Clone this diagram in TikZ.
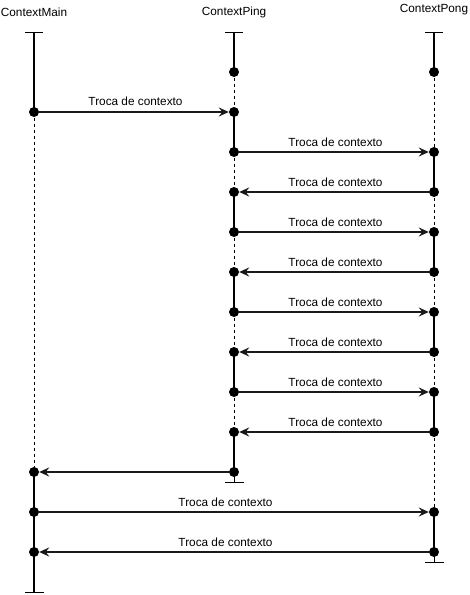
\documentclass[tikz,border=0pt]{standalone}
\usepackage{fontspec}
\setmainfont{Liberation Sans}
\usetikzlibrary{arrows.meta}
\begin{document}
\begin{tikzpicture}[x=1pt,y=-1pt,
  dot/.style={circle,fill=black,inner sep=0pt,minimum size=10pt},
  solidlife/.style={line width=2pt},
  dashlife/.style={line width=0.8pt,dash pattern=on 3pt off 3pt},
  endbar/.style={line width=1pt},
  msg/.style={line width=1.6pt,draw=black!90,-{Stealth[length=10pt,width=9pt,inset=3.5pt]}},
  lbl/.style={font=\fontsize{11.8}{13}\selectfont,inner sep=0pt},
  title/.style={font=\fontsize{11.8}{13}\selectfont,inner sep=0pt}]
\useasboundingbox (0,0) rectangle (470,595);
% titles
\node[title] (tm) at (34,12) {ContextMain};
\node[title] (tp) at (234,12) {ContextPing};
\node[title] (tq) at (434,10) {ContextPong};
% top / bottom coordinates
\coordinate (mt) at (34,32);
\coordinate (pt) at (234,32);
\coordinate (qt) at (434,32);
\coordinate (mb) at (34,592);
\coordinate (pb) at (234,482);
\coordinate (qb) at (434,562);
% bars
\draw[endbar] ([xshift=-9pt]mt) -- ([xshift=9pt]mt);
\draw[endbar] ([xshift=-9pt]pt) -- ([xshift=9pt]pt);
\draw[endbar] ([xshift=-9pt]qt) -- ([xshift=9pt]qt);
\draw[endbar] ([xshift=-9pt]mb) -- ([xshift=10pt]mb);
\draw[endbar] ([xshift=-9pt]pb) -- ([xshift=10pt]pb);
\draw[endbar] ([xshift=-9pt]qb) -- ([xshift=10pt]qb);
% main dots
\coordinate (m1) at (34,112);
\coordinate (m2) at (34,472);
\coordinate (m3) at (34,512);
\coordinate (m4) at (34,552);
% ping dots
\foreach \i/\y in {0/72,1/112,2/152,3/192,4/232,5/272,6/312,7/352,8/392,9/432,10/472}
  \coordinate (p\i) at (234,\y);
% pong dots
\foreach \i/\y in {0/72,1/152,2/192,3/232,4/272,5/312,6/352,7/392,8/432,9/512,10/552}
  \coordinate (q\i) at (434,\y);
% lifelines Main
\draw[solidlife] (mt) -- (m1);
\draw[dashlife] (m1) -- (m2);
\draw[solidlife] (m2) -- (m4);
\draw[solidlife] (m4) -- (mb);
% lifelines Ping
\draw[solidlife] (pt) -- (p0);
\draw[dashlife] (p0) -- (p1);
\draw[solidlife] (p1) -- (p2);
\draw[dashlife] (p2) -- (p3);
\draw[solidlife] (p3) -- (p4);
\draw[dashlife] (p4) -- (p5);
\draw[solidlife] (p5) -- (p6);
\draw[dashlife] (p6) -- (p7);
\draw[solidlife] (p7) -- (p8);
\draw[dashlife] (p8) -- (p9);
\draw[solidlife] (p9) -- (p10);
\draw[endbar] (p10) -- (pb);
% lifelines Pong
\draw[solidlife] (qt) -- (q0);
\draw[dashlife] (q0) -- (q1);
\draw[solidlife] (q1) -- (q2);
\draw[dashlife] (q2) -- (q3);
\draw[solidlife] (q3) -- (q4);
\draw[dashlife] (q4) -- (q5);
\draw[solidlife] (q5) -- (q6);
\draw[dashlife] (q6) -- (q7);
\draw[solidlife] (q7) -- (q8);
\draw[dashlife] (q8) -- (q9);
\draw[solidlife] (q9) -- (q10);
\draw[endbar] (q10) -- (qb);
% dot nodes
\foreach \n in {m1,m2,m3,m4,p0,p1,p2,p3,p4,p5,p6,p7,p8,p9,p10,q0,q1,q2,q3,q4,q5,q6,q7,q8,q9,q10}
  \node[dot] (d\n) at (\n) {};
% messages
\draw[msg] (dm1) -- (dp1);
\draw[msg] (dp2) -- (dq1);
\draw[msg] (dq2) -- (dp3);
\draw[msg] (dp4) -- (dq3);
\draw[msg] (dq4) -- (dp5);
\draw[msg] (dp6) -- (dq5);
\draw[msg] (dq6) -- (dp7);
\draw[msg] (dp8) -- (dq7);
\draw[msg] (dq8) -- (dp9);
\draw[msg] (dp10) -- (dm2);
\draw[msg] (dm3) -- (dq9);
\draw[msg] (dq10) -- (dm4);
% labels
\node[lbl] (l1) at (135.5,101) {Troca de contexto};
\foreach \y [count=\k] in {142,182,222,262,302,342,382,422}
  \node[lbl] (lp\k) at (335.5,\y) {Troca de contexto};
\node[lbl] (l11) at (225.5,502) {Troca de contexto};
\node[lbl] (l12) at (225.5,542) {Troca de contexto};
\end{tikzpicture}
\end{document}
